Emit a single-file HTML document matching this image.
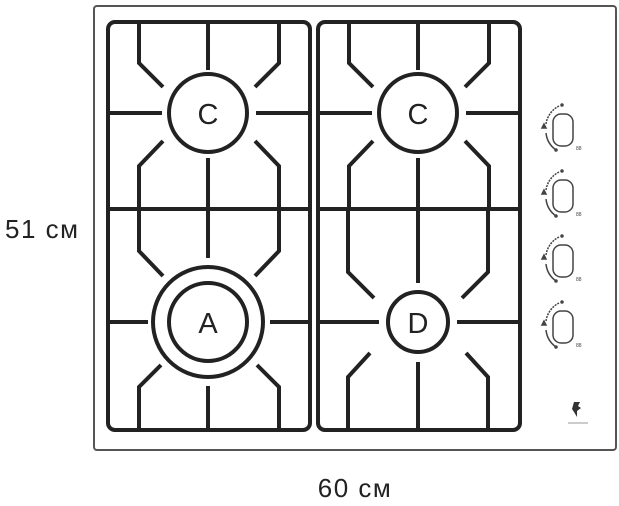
<!DOCTYPE html>
<html><head><style>body{margin:0;background:#fff;}svg{display:block}</style></head><body>
<svg width="619" height="506" viewBox="0 0 619 506" xmlns="http://www.w3.org/2000/svg">
<rect x="94" y="6" width="522" height="444" rx="3" fill="#fff" stroke="#555" stroke-width="2"/>
<g fill="none" stroke="#222" stroke-width="4" stroke-linecap="butt">
<g id="g">
<rect x="108" y="22" width="202" height="408" rx="7"/>
<line x1="108" y1="209" x2="310" y2="209"/>
<polyline points="139,22 139,63 163,87"/>
<polyline points="279,22 279,63 255,87"/>
<line x1="208" y1="22" x2="208" y2="70"/>
<line x1="108" y1="113" x2="162" y2="113"/>
<line x1="256" y1="113" x2="310" y2="113"/>
<polyline points="163,141 139,166 139,209"/>
<polyline points="255,141 279,166 279,209"/>
<line x1="208" y1="158" x2="208" y2="209"/>
</g>
<use href="#g" transform="translate(210,0)"/>
<line x1="208" y1="209" x2="208" y2="258"/>
<polyline points="139,209 139,251 163,276"/>
<polyline points="279,209 279,251 255,276"/>
<line x1="108" y1="322" x2="148" y2="322"/>
<line x1="270" y1="322" x2="310" y2="322"/>
<polyline points="161,365 139,387 139,430"/>
<polyline points="257,365 279,387 279,430"/>
<line x1="208" y1="386" x2="208" y2="430"/>
<line x1="418" y1="209" x2="418" y2="283"/>
<polyline points="348,209 348,272 374,298"/>
<polyline points="488,209 488,272 462,298"/>
<line x1="318" y1="322" x2="379" y2="322"/>
<line x1="457" y1="322" x2="520" y2="322"/>
<polyline points="370,353 348,377 348,430"/>
<polyline points="466,353 488,377 488,430"/>
<line x1="418" y1="362" x2="418" y2="430"/>
<circle cx="208" cy="113" r="39"/>
<circle cx="418" cy="113" r="39"/>
<circle cx="208" cy="322" r="55"/>
<circle cx="208" cy="322" r="39"/>
<circle cx="418" cy="322" r="30"/>
</g>
<g font-family="Liberation Sans, sans-serif" font-size="29" fill="#222" text-anchor="middle">
<text x="208" y="124">C</text><text x="418" y="124">C</text>
<text x="208" y="333">A</text><text x="418" y="333">D</text>
</g>
<g fill="none" stroke="#444" stroke-width="1.5">
<g id="k">
<rect x="553" y="114" width="20" height="32" rx="8"/>
<path d="M559,106 A24,24 0 0 0 546,124" stroke-dasharray="2,1"/>
<path d="M546,133 A24,24 0 0 0 556,150"/>
<circle cx="562" cy="105" r="1" fill="#444"/>
<circle cx="556" cy="150" r="1" fill="#444"/>
<path d="M542,128 l2,-4 l2,4 z" fill="#444"/>
<text x="576" y="150" font-size="5" fill="#444" stroke="none" font-family="Liberation Sans">88</text>
</g>
<use href="#k" transform="translate(0,66)"/>
<use href="#k" transform="translate(0,131)"/>
<use href="#k" transform="translate(0,197)"/>
</g>
<path d="M574,402 l6,0 l-2,4 l3,2 l-4,3 l0,6 l-3,-5 l-2,-3z" fill="#333"/>
<line x1="568" y1="423" x2="588" y2="423" stroke="#999" stroke-width="1"/>
<g font-family="Liberation Sans, sans-serif" font-size="26" fill="#222" letter-spacing="1.5">
<text x="5" y="238">51 см</text>
<text x="355" y="497" text-anchor="middle">60 см</text>
</g>
</svg>
</body></html>
